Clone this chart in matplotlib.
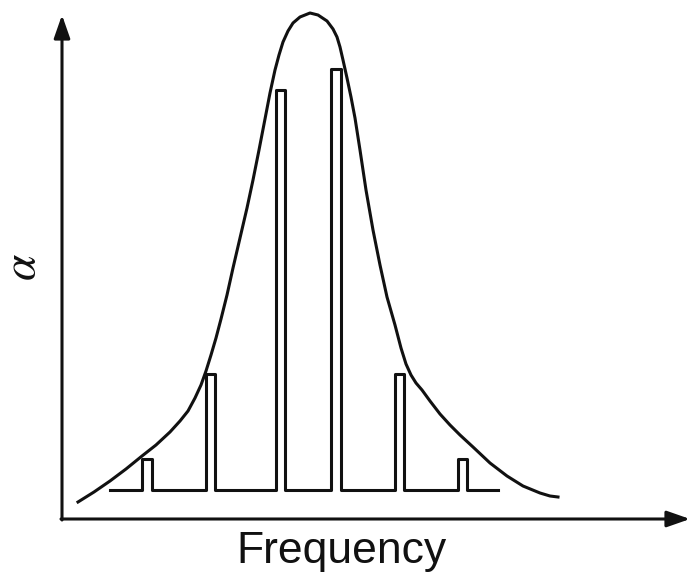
import matplotlib
matplotlib.use("Agg")
import matplotlib.pyplot as plt

# envelope curve (absorption)
curve_x = [16, 32, 48, 64, 80, 94, 108, 118, 126, 133, 139, 144, 149, 154, 159,
           165, 171, 178, 185, 191, 197, 203, 208, 213, 217, 221, 226, 231, 238, 248,
           256, 265, 271, 275, 278, 281, 285, 289, 293, 298, 304, 311, 318, 325, 333,
           339, 344, 349, 354, 360, 368, 378, 388, 398, 411, 428, 445, 461, 478, 488,
           496]
curve_y = [17, 27, 38, 50, 63, 74, 87, 98, 108, 121, 134, 148, 164, 181, 200,
           224, 251, 281, 311, 339, 369, 400, 426, 449, 464, 477, 488, 496, 502, 506,
           504, 498, 490, 482, 472, 459, 441, 422, 401, 369, 329, 289, 254, 222, 194,
           171, 155, 144, 136, 129, 118, 105, 94, 84, 72, 56, 43, 33, 26, 23,
           22]

# narrow lines on the baseline
baseline = 29
base_start, base_end = 48, 436
peak_left = [80, 144, 214, 269, 333, 396]
peak_right = [90, 153, 223, 279, 342, 405]
peak_top = [60, 145, 429, 450, 145, 60]

# step path of the line spectrum
sx = [base_start]
sy = [baseline]
for l, r, t in zip(peak_left, peak_right, peak_top):
    sx += [l, l, r, r]
    sy += [baseline, t, t, baseline]
sx.append(base_end)
sy.append(baseline)

fig = plt.figure(figsize=(6.93, 5.72), dpi=100)
ax = fig.add_axes([0, 0, 1, 1])
ax.set_xlim(-62, 631)
ax.set_ylim(-53, 519)
ax.axis("off")

col = "#111111"
ax.plot(curve_x, curve_y, color=col, lw=2.2, solid_joinstyle="round")
ax.plot(sx, sy, color=col, lw=2.2, solid_joinstyle="round")

# axes with arrow heads
arrow = dict(arrowstyle="-|>,head_length=1.0,head_width=0.35", mutation_scale=14,
             lw=2.2, color=col, shrinkA=0, shrinkB=0)
ax.annotate("", xy=(628, 0), xytext=(-1, 0), arrowprops=arrow)
ax.annotate("", xy=(0, 504), xytext=(0, -1), arrowprops=arrow)

ax.text(279, -44, "Frequency", fontsize=32, family="Liberation Sans",
        ha="center", va="baseline", color=col)
plt.rcParams["mathtext.fontset"] = "stix"
ax.text(-40, 252, r"$\alpha$", fontsize=34, rotation=90,
        ha="center", va="center", color=col)

fig.savefig("out.png", dpi=100)
